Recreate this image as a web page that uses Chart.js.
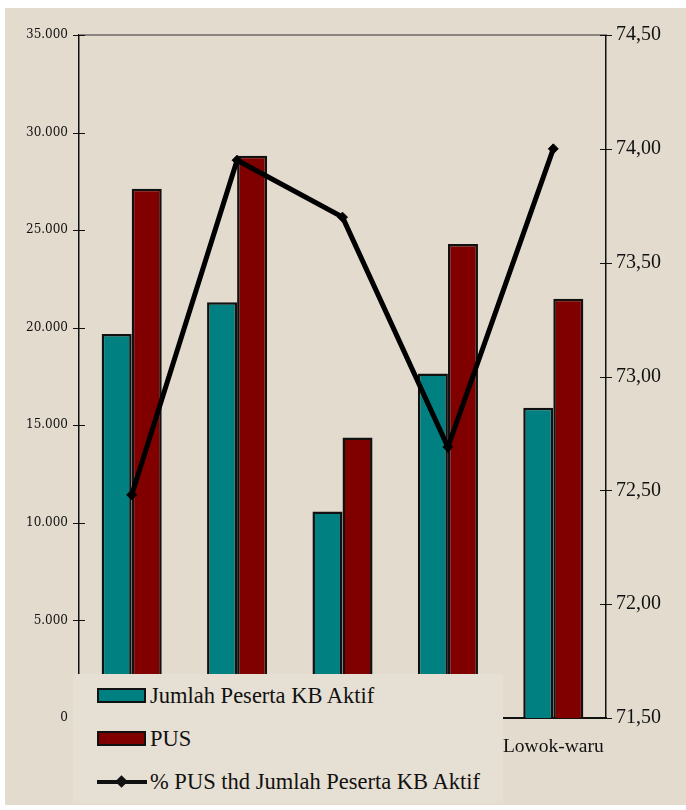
<!DOCTYPE html>
<html>
<head>
<meta charset="utf-8">
<script src="https://cdn.jsdelivr.net/npm/chart.js@4"></script>
<style>
    body { margin: 0; background: #ffffff; }
    #halaman { position: relative; width: 686px; height: 810px; overflow: hidden; }
    #latar { position: absolute; left: 5px; top: 8px; right: 0; bottom: 5px; background: #e3dbce; }
    #wadah { position: absolute; left: 0; top: 0; width: 686px; height: 810px; }
    #legenda {
        position: absolute; left: 73px; top: 674px; width: 430px; height: 129px;
        background: #e6dfd3; font-family: "Liberation Serif", "Times New Roman", serif;
        font-size: 22.5px; color: #111;
    }
    .item { display: flex; align-items: center; height: 43px; padding-left: 24px; }
    .kotak { width: 49px; height: 15px; border: 2px solid #111; box-sizing: border-box; margin-right: 4px; }
    .garis { position: relative; width: 50px; height: 4px; background: #111; margin-right: 3px; }
    .garis span {
        position: absolute; left: 20px; top: -3px; width: 9px; height: 9px;
        background: #111; transform: rotate(45deg);
    }
</style>
</head>
<body>
<div id="halaman">
    <div id="latar"></div>
    <div id="wadah"><canvas id="grafik"></canvas></div>
    <div id="legenda">
        <div class="item"><span class="kotak" style="background:#008080"></span>Jumlah Peserta KB Aktif</div>
        <div class="item"><span class="kotak" style="background:#800000"></span>PUS</div>
        <div class="item"><span class="garis"><span></span></span>% PUS thd Jumlah Peserta KB Aktif</div>
    </div>
</div>
<script>
const kecamatan = ['Kedung-kandang', 'Sukun', 'Klojen', 'Blimbing', 'Lowok-waru'];
const pesertaKbAktif = [19680, 21300, 10580, 17660, 15900];
const jumlahPus = [27120, 28810, 14380, 24290, 21480];
const persenPus = [72.48, 73.95, 73.70, 72.69, 74.00];

const ticksKiri = [0, 5000, 10000, 15000, 20000, 25000, 30000, 35000];
const ticksKanan = [71.5, 72.0, 72.5, 73.0, 73.5, 74.0, 74.5];

function formatRibuan(nilai) {
    return String(nilai).replace(/\B(?=(\d{3})+(?!\d))/g, '.');
}

// garis tick memotong sumbu + garis abu-abu di atas area grafik
const pluginTick = {
    id: 'tickSilang',
    afterDraw(chart) {
        const { ctx, chartArea, scales } = chart;
        ctx.save();
        ctx.strokeStyle = '#8a8580';
        ctx.lineWidth = 2;
        ctx.beginPath();
        ctx.moveTo(chartArea.left, chartArea.top);
        ctx.lineTo(chartArea.right, chartArea.top);
        ctx.stroke();

        ctx.strokeStyle = '#111';
        ctx.lineWidth = 1;
        ticksKiri.forEach(nilai => {
            const y = Math.round(scales.y.getPixelForValue(nilai)) + 0.5;
            ctx.beginPath();
            ctx.moveTo(chartArea.left - 6, y);
            ctx.lineTo(chartArea.left + 6, y);
            ctx.stroke();
        });
        ticksKanan.forEach(nilai => {
            const y = Math.round(scales.y1.getPixelForValue(nilai)) + 0.5;
            ctx.beginPath();
            ctx.moveTo(chartArea.right - 6, y);
            ctx.lineTo(chartArea.right + 6, y);
            ctx.stroke();
        });
        ctx.restore();
    }
};

new Chart(document.getElementById('grafik'), {
    type: 'bar',
    data: {
        labels: kecamatan,
        datasets: [
            {
                type: 'line',
                label: '% PUS thd Jumlah Peserta KB Aktif',
                data: persenPus,
                yAxisID: 'y1',
                borderColor: '#000',
                backgroundColor: '#000',
                borderWidth: 5,
                tension: 0,
                pointStyle: 'rectRot',
                pointRadius: 5,
                pointBorderWidth: 1,
                order: 0
            },
            {
                label: 'Jumlah Peserta KB Aktif',
                data: pesertaKbAktif,
                yAxisID: 'y',
                backgroundColor: '#008080',
                borderColor: '#111',
                borderWidth: 2.5,
                order: 1
            },
            {
                label: 'PUS',
                data: jumlahPus,
                yAxisID: 'y',
                backgroundColor: '#800000',
                borderColor: '#111',
                borderWidth: 2.5,
                order: 1
            }
        ]
    },
    options: {
        responsive: true,
        maintainAspectRatio: false,
        animation: false,
        categoryPercentage: 0.57,
        barPercentage: 1,
        layout: { padding: { top: 35, left: 0, right: 0, bottom: 0 } },
        plugins: {
            legend: { display: false },
            tooltip: { enabled: false }
        },
        scales: {
            x: {
                offset: true,
                grid: { display: false, drawTicks: false },
                border: { display: true, color: '#111', width: 2 },
                afterFit: scale => { scale.height = 92; },
                ticks: {
                    padding: 17,
                    maxRotation: 0,
                    autoSkip: false,
                    color: '#111',
                    font: { family: '"Liberation Serif", serif', size: 19.5 },
                    callback: (nilai, indeks) => indeks === kecamatan.length - 1 ? kecamatan[indeks] : ''
                }
            },
            y: {
                position: 'left',
                min: 0,
                max: 35000,
                grid: { display: false, drawTicks: false },
                border: { display: true, color: '#111', width: 1.5 },
                afterFit: scale => { scale.width = 79; },
                ticks: {
                    stepSize: 5000,
                    padding: 11,
                    color: '#111',
                    font: { family: '"DejaVu Serif", serif', size: 12 },
                    callback: nilai => formatRibuan(nilai)
                }
            },
            y1: {
                position: 'right',
                min: 71.5,
                max: 74.5,
                grid: { display: false, drawTicks: false },
                border: { display: true, color: '#111', width: 1.5 },
                afterFit: scale => { scale.width = 80; },
                ticks: {
                    stepSize: 0.5,
                    padding: 10,
                    color: '#111',
                    font: { family: '"Liberation Serif", serif', size: 20 },
                    callback: nilai => Number(nilai).toFixed(2).replace('.', ',')
                }
            }
        }
    },
    plugins: [pluginTick]
});
</script>
</body>
</html>
